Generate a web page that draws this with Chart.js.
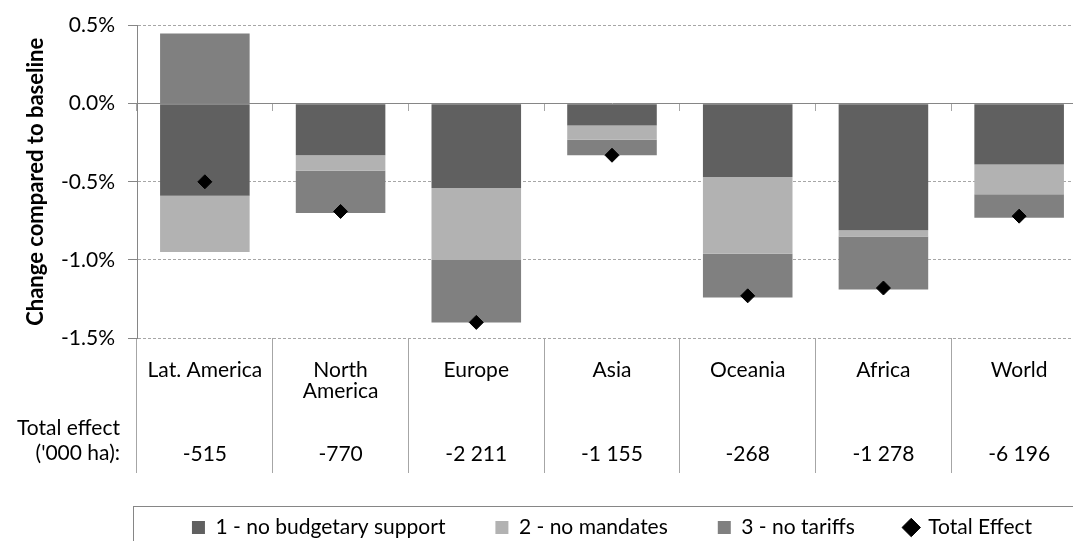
<!DOCTYPE html>
<html>
<head>
<meta charset="utf-8">
<script src="https://cdn.jsdelivr.net/npm/chart.js@4.4.0/dist/chart.umd.min.js"></script>
<style>
  html, body { margin: 0; padding: 0; background: #fff; overflow: hidden; }
  #wrap { width: 1100px; height: 548px; position: relative; }
</style>
</head>
<body>
<div id="wrap"><canvas id="areaChart"></canvas></div>
<script>
// regions (category labels, split on lines)
const regions = [
  ["Lat. America"],
  ["North", "America"],
  ["Europe"],
  ["Asia"],
  ["Oceania"],
  ["Africa"],
  ["World"],
];
// total effect, '000 ha
const totalHa = ["-515", "-770", "-2 211", "-1 155", "-268", "-1 278", "-6 196"];

// change compared to baseline, in %
const noBudgetSupport = [-0.59, -0.33, -0.54, -0.14, -0.47, -0.81, -0.39];
const noMandates = [-0.36, -0.10, -0.46, -0.09, -0.49, -0.04, -0.19];
const noTariffs = [0.45, -0.27, -0.40, -0.10, -0.28, -0.34, -0.15];
const totalEffect = [-0.50, -0.69, -1.40, -0.33, -1.23, -1.18, -0.72];

const yTicks = [0.5, 0.0, -0.5, -1.0, -1.5];

const FONT = "Lato, 'Open Sans', sans-serif";
const GRID = "#a6a6a6";
const AXIS = "#868686";

// tick label: name lines, blank rows, then total effect value
const labels = regions.map((r, i) => [r[0], r[1] || "", "", "", totalHa[i]]);

// draws the left side row titles and the box around the legend
const extras = {
  id: "extras",
  afterDraw(chart) {
    const ctx = chart.ctx;
    const xs = chart.scales.x;
    ctx.save();
    ctx.fillStyle = "#000";
    ctx.font = "21px " + FONT;
    ctx.textAlign = "right";
    ctx.textBaseline = "middle";
    ctx.fillText("Total effect", 120, xs.top + 90);
    ctx.fillText("('000 ha):", 120, xs.top + 115);

    const lg = chart.legend;
    ctx.strokeStyle = AXIS;
    ctx.lineWidth = 1;
    ctx.strokeRect(chart.chartArea.left - 3.5, lg.top + 39.5, chart.chartArea.right - chart.chartArea.left + 3, 80);
    ctx.restore();
  },
};

const config = {
  type: "bar",
  data: {
    labels: labels,
    datasets: [
      {
        label: "1 - no budgetary support",
        data: noBudgetSupport,
        backgroundColor: "#606060",
        pointStyle: "rect",
        order: 1,
      },
      {
        label: "2 - no mandates",
        data: noMandates,
        backgroundColor: "#b2b2b2",
        pointStyle: "rect",
        order: 1,
      },
      {
        label: "3 - no tariffs",
        data: noTariffs,
        backgroundColor: "#808080",
        pointStyle: "rect",
        order: 1,
      },
      {
        type: "line",
        label: "Total Effect",
        data: totalEffect,
        showLine: false,
        stack: "total",
        pointStyle: "rectRot",
        pointRadius: 7,
        pointBackgroundColor: "#000",
        pointBorderColor: "#000",
        backgroundColor: "#000",
        borderColor: "#000",
        borderWidth: 1,
        order: 0,
      },
    ],
  },
  options: {
    responsive: true,
    maintainAspectRatio: false,
    animation: false,
    barPercentage: 0.66,
    categoryPercentage: 1.0,
    layout: { padding: { left: 0, right: 13, top: 15, bottom: 0 } },
    scales: {
      x: {
        stacked: true,
        offset: true,
        grid: {
          offset: true,
          drawOnChartArea: false,
          tickLength: 135,
          color: GRID,
        },
        border: { display: false },
        ticks: {
          autoSkip: false,
          maxRotation: 0,
          padding: -113,
          color: "#000",
          font: { family: FONT, size: 21, lineHeight: "21px" },
        },
        afterFit(scale) {
          scale.height = 129;
        },
      },
      xZero: {
        type: "category",
        position: { y: 0 },
        offset: true,
        grid: {
          offset: true,
          drawOnChartArea: false,
          tickLength: 7,
          color: GRID,
        },
        border: { display: true, color: AXIS, width: 1 },
        ticks: { display: false },
      },
      y: {
        stacked: true,
        min: -1.5,
        max: 0.5,
        afterBuildTicks(scale) {
          scale.ticks = yTicks.map((v) => ({ value: v }));
        },
        afterFit(scale) {
          scale.width = 137;
        },
        grid: {
          color: GRID,
          tickLength: 9,
          tickColor: AXIS,
        },
        border: { display: true, color: AXIS, dash: [3, 2] },
        ticks: {
          padding: 13,
          color: "#000",
          font: { family: FONT, size: 21 },
          callback: (v) => Number(v).toFixed(1) + "%",
        },
        title: {
          display: true,
          text: "Change compared to baseline",
          color: "#000",
          font: { family: FONT, size: 22, weight: "bold" },
          padding: { top: 23, bottom: 0 },
        },
      },
    },
    plugins: {
      tooltip: { enabled: false },
      legend: {
        position: "bottom",
        fullSize: false,
        labels: {
          usePointStyle: true,
          boxWidth: 13,
          boxHeight: 13,
          padding: 50,
          color: "#000",
          font: { family: FONT, size: 21 },
          sort: (a, b) => a.datasetIndex - b.datasetIndex,
        },
      },
    },
  },
  plugins: [extras],
};

const areaChart = new Chart(document.getElementById("areaChart"), config);
</script>
</body>
</html>
